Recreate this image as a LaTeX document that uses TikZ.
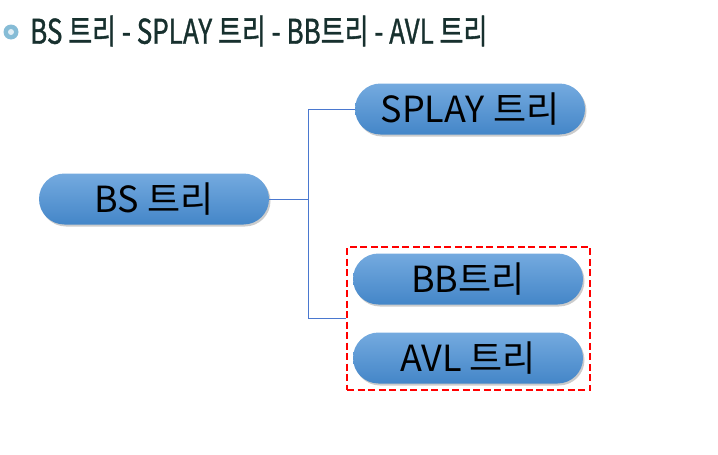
\documentclass[tikz,border=0pt]{standalone}
\usepackage{fontspec}
\setmainfont{Noto Sans CJK KR}
\newfontfamily\titlefont[FakeBold=1.2]{Noto Sans CJK KR}
\usetikzlibrary{shadows,fit,shapes.misc}
\definecolor{nodetop}{HTML}{74AADF}
\definecolor{nodebot}{HTML}{4486C8}
\definecolor{linkblue}{HTML}{4A78CF}
\definecolor{titlecol}{HTML}{17302E}
\definecolor{bulletcol}{HTML}{86BCD6}
\begin{document}
\begin{tikzpicture}[x=1pt,y=-1pt,
  treebox/.style={rounded rectangle, minimum width=230pt, minimum height=51pt,
    top color=nodetop, bottom color=nodebot, draw=none,
    drop shadow={shadow xshift=1.5pt, shadow yshift=-2pt, opacity=0.4},
    font=\fontsize{36}{40}\selectfont, text=black, inner sep=0pt},
  link/.style={draw=linkblue, line width=0.8pt},
  grpbox/.style={draw=red, line width=2.5pt, dash pattern=on 7pt off 3.5pt}]
\useasboundingbox (0,0) rectangle (718,455);
\fill[bulletcol] (11,32) circle (7.5);
\fill[white!75!bulletcol] (11,32) circle (3);
\node[anchor=west, text=titlecol, inner sep=0pt] (title) at (30,31)
  {\titlefont\fontsize{34}{38}\selectfont\scalebox{0.765}[1]{BS 트리 - SPLAY 트리 - BB트리 - AVL 트리}};
\node[treebox] (bs) at (154,199) {BS 트리};
\node[treebox] (splay) at (470,109) {SPLAY 트리};
\node[treebox] (bb) at (468,279) {BB트리};
\node[treebox] (avl) at (468,358) {AVL 트리};
\node[grpbox, fit={(347,247) (590,390)}, inner sep=0pt] (grp) {};
\coordinate (fork) at (308,199);
\draw[link] (bs.east) -- (fork) |- (splay.west);
\draw[link] (fork) |- (grp.west);
\end{tikzpicture}
\end{document}
